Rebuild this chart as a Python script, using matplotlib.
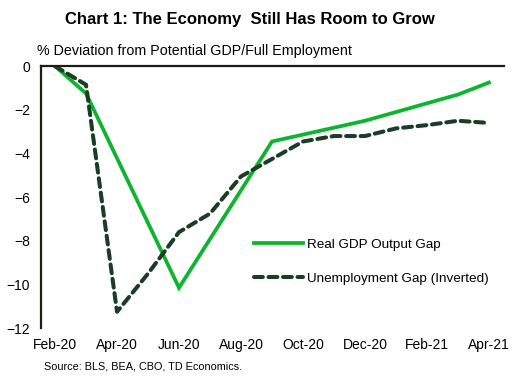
import numpy as np
import matplotlib
matplotlib.use("Agg")
import matplotlib.pyplot as plt

plt.rcParams['font.family'] = ['Liberation Sans', 'DejaVu Sans']

# months counted from Feb-20
tick_labels = ["Feb-20", "Apr-20", "Jun-20", "Aug-20", "Oct-20", "Dec-20", "Feb-21", "Apr-21"]

gdp_months = [0, 1, 4, 7, 10, 13, 14]
gdp_gap = [0.0, -1.25, -10.15, -3.45, -2.5, -1.3, -0.75]

unemp_months = list(range(15))
unemp_gap = [0.0, -0.85, -11.25, -9.5, -7.6, -6.75, -5.05, -4.25, -3.45,
             -3.2, -3.2, -2.85, -2.7, -2.5, -2.6]

green = "#0db52f"
dark = "#1b3d26"

fig = plt.figure(figsize=(5.2, 3.87), dpi=100)
ax = fig.add_axes([0.079, 0.152, 0.89, 0.677])

ax.plot(gdp_months, gdp_gap, color=green, lw=2.7, solid_joinstyle="miter",
        label="Real GDP Output Gap")
ax.plot(unemp_months, unemp_gap, color=dark, lw=2.9, linestyle=(0, (2.2, 1.4)),
        dash_capstyle="round", label="Unemployment Gap (Inverted)")

ax.set_xlim(-0.45, 14.48)
ax.set_ylim(-12, 0)
ax.set_xticks(range(0, 15, 2))
ax.set_xticklabels(tick_labels)
ax.set_yticks(range(-12, 1, 2))
ax.tick_params(axis="both", length=0, labelsize=10, colors="black")
ax.tick_params(axis="x", pad=7)
ax.tick_params(axis="y", pad=8)

for s in ["right", "bottom"]:
    ax.spines[s].set_visible(False)
for s in ["left", "top"]:
    ax.spines[s].set_color("#1c1f10")
    ax.spines[s].set_linewidth(1.6)

leg = ax.legend(loc="center left", bbox_to_anchor=(0.434, 0.254), frameon=False,
                fontsize=9.7, handlelength=3.6, handletextpad=0.3, labelspacing=1.65)

fig.text(0.481, 0.949, "Chart 1: The Economy  Still Has Room to Grow", ha="center",
         va="center", fontsize=12, fontweight="bold")
fig.text(0.072, 0.869, "% Deviation from Potential GDP/Full Employment", ha="left",
         va="center", fontsize=10.3)
fig.text(0.085, 0.052, "Source: BLS, BEA, CBO, TD Economics.", ha="left",
         va="center", fontsize=7.8)

fig.savefig("out.png", dpi=100)
